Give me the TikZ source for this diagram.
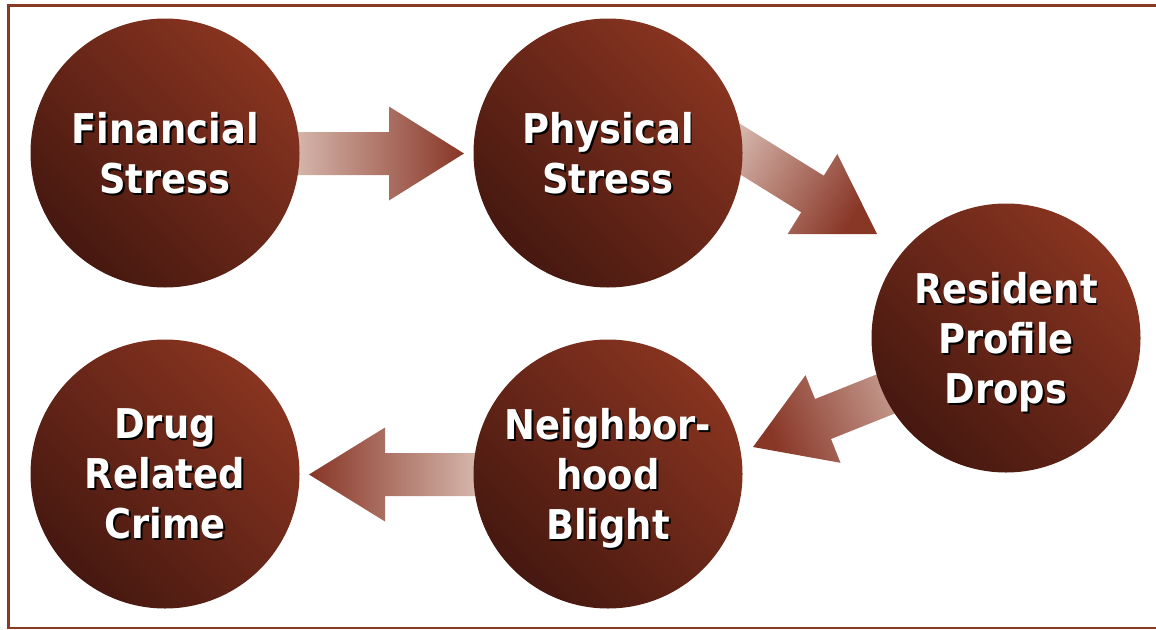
\documentclass[tikz,border=0pt]{standalone}
\usepackage{fontspec}
\newfontfamily\lblfont[FakeStretch=0.9]{DejaVu Sans}
\definecolor{framecol}{RGB}{138,58,36}
\definecolor{circlight}{RGB}{136,52,32}
\definecolor{circdark}{RGB}{70,24,16}
\definecolor{arrlight}{RGB}{216,186,176}
\definecolor{arrdark}{RGB}{136,54,38}
\pgfdeclarelayer{background}
\pgfsetlayers{background,main}
\tikzset{
  circ/.style={circle, minimum size=269pt, inner sep=0pt, top color=circlight, bottom color=circdark, shading angle=-45},
  lbl/.style={text=white, font=\lblfont\bfseries\fontsize{41}{50}\selectfont, align=center, text depth=0pt, inner sep=0pt},
  lblshadow/.style={lbl, text=black},
  frameline/.style={draw=framecol, line width=3.3pt},
  flow/.style={left color=arrlight, right color=arrdark}
}
\begin{document}
\begin{tikzpicture}[x=1pt,y=-1pt]
\useasboundingbox (0,0) rectangle (1156,629);
% frame
\draw[frameline] (8.7,629) -- (8.7,5.6) -- (1156,5.6);
\draw[frameline, line width=2.5pt] (8.7,628) -- (1156,628);
% circles
\node[circ] (fin)   at (165,153) {};
\node[circ] (phys)  at (608,153) {};
\node[circ] (res)   at (1006,338) {};
\node[circ] (neigh) at (608,474) {};
\node[circ] (drug)  at (165,474) {};
% labels
\foreach \n/\t in {fin/{Financial\\Stress}, phys/{Physical\\Stress}, res/{Resident\\Profile\\Drops}, neigh/{Neighbor-\\hood\\Blight}, drug/{Drug\\Related\\Crime}}{
  \node[lblshadow] (\n-s) at ([shift={(1.8,1.8)}]\n.center) {\t};
  \node[lbl] (\n-t) at (\n.center) {\t};
}
% block arrows (behind circles)
\begin{pgfonlayer}{background}
\shade[flow, shading angle=90]
  (290,132) -- (389,132) -- (389,106.5) -- (464,153.5) -- (389,200.5) -- (389,175) -- (290,175) -- cycle;
\shade[flow, shading angle=58.2]
  (707.7,154.3) -- (801.2,212.3) -- (787.7,234) -- (877,234) -- (837.3,154) -- (823.8,175.7) -- (730.3,117.7) -- cycle;
\shade[flow, shading angle=291.8]
  (951.6,390.8) -- (831,439) -- (840.5,462.8) -- (753,447) -- (805.5,375.2) -- (815,399) -- (935.6,350.8) -- cycle;
\shade[flow, shading angle=270]
  (482,453) -- (385,453) -- (385,427.5) -- (309,474.5) -- (385,521.5) -- (385,496) -- (482,496) -- cycle;
\end{pgfonlayer}
\end{tikzpicture}
\end{document}
